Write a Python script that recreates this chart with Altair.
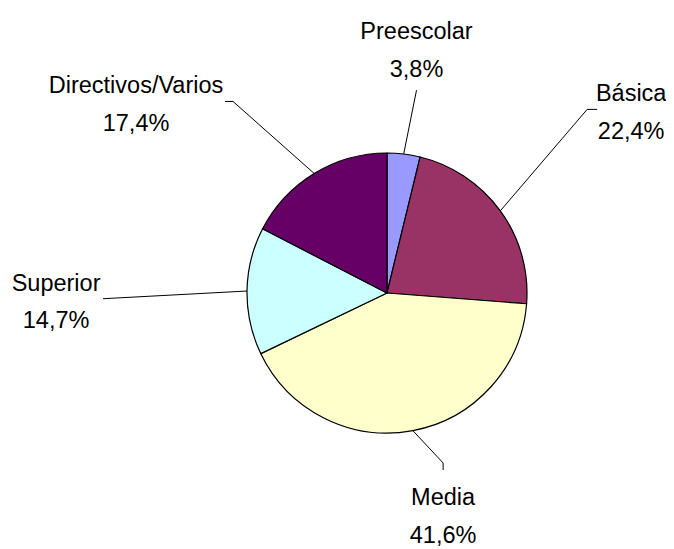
import math
import altair as alt
import pandas as pd

# ---- data ----
categories = ["Preescolar", "Básica", "Media", "Superior", "Directivos/Varios"]
values = [3.8, 22.4, 41.6, 14.7, 17.4]
colors = ["#9999FF", "#993366", "#FFFFCC", "#CCFFFF", "#660066"]

# ---- layout parameters ----
W, H = 658, 541
CX, CY = 379, 285
R = 140
label_radius = [247.6, 305.5, 227.5, 331.0, 315.7]
label_shift = [0.0, -1.0, -3.65, -1.8, -21.3]  # degrees from slice mid-angle
attach_side = ["down", "left", "up", "right", "right"]
attach_gap = [43, 34, 43.5, 47, 89]
knee_len = [0, 10, 7, 0, 8]
FONT = "Liberation Sans, Arial, sans-serif"
FS = 23.5
LH = 37.5

total = sum(values)
pie_rows, label_rows, line_rows = [], [], []
cum = 0.0
dirs = {"down": (0, 1), "up": (0, -1), "left": (-1, 0), "right": (1, 0)}
for i, (c, v) in enumerate(zip(categories, values)):
    mid = (cum + v / 2) / total * 2 * math.pi
    cum += v
    pie_rows.append({"category": c, "value": v, "idx": i})
    ex, ey = CX + R * math.sin(mid), CY - R * math.cos(mid)
    a = mid + math.radians(label_shift[i])
    lx, ly = CX + label_radius[i] * math.sin(a), CY - label_radius[i] * math.cos(a)
    dx, dy = dirs[attach_side[i]]
    ax, ay = lx + dx * attach_gap[i], ly + dy * attach_gap[i]
    kx, ky = ax + dx * knee_len[i], ay + dy * knee_len[i]
    pct = f"{v:.1f}".replace(".", ",") + "%"
    label_rows.append({"category": c, "text": f"{c}\n{pct}", "x": lx, "y": ly - 8})
    for j, (px, py) in enumerate([(ex, ey), (kx, ky), (ax, ay)]):
        line_rows.append({"category": c, "k": j, "x": px, "y": py})

pie_df = pd.DataFrame(pie_rows)
label_df = pd.DataFrame(label_rows)
line_df = pd.DataFrame(line_rows)

xs = alt.Scale(domain=[0, W], range=[0, W])
ys = alt.Scale(domain=[0, H], range=[0, H])

pie = alt.Chart(pie_df).mark_arc(outerRadius=R, stroke="black", strokeWidth=1.2).encode(
    theta=alt.Theta("value:Q", stack=True),
    color=alt.Color("category:N", scale=alt.Scale(domain=categories, range=colors), legend=None),
    order=alt.Order("idx:Q"),
    x=alt.value(CX),
    y=alt.value(CY),
)

lines = alt.Chart(line_df).mark_line(color="black", strokeWidth=1).encode(
    x=alt.X("x:Q", scale=xs, axis=None),
    y=alt.Y("y:Q", scale=ys, axis=None),
    detail="category:N",
    order="k:Q",
)

texts = alt.Chart(label_df).mark_text(
    font=FONT, fontSize=FS, lineBreak="\n", lineHeight=LH,
    align="center", baseline="alphabetic", color="black",
).encode(
    x=alt.X("x:Q", scale=xs, axis=None),
    y=alt.Y("y:Q", scale=ys, axis=None),
    text="text:N",
)

chart = alt.layer(pie, lines, texts).properties(
    width=W, height=H, autosize=alt.AutoSizeParams(type="none"), padding=0, background="white"
).configure_view(stroke=None)

chart.save("out.html", embed_options={"renderer": "svg", "actions": False})
